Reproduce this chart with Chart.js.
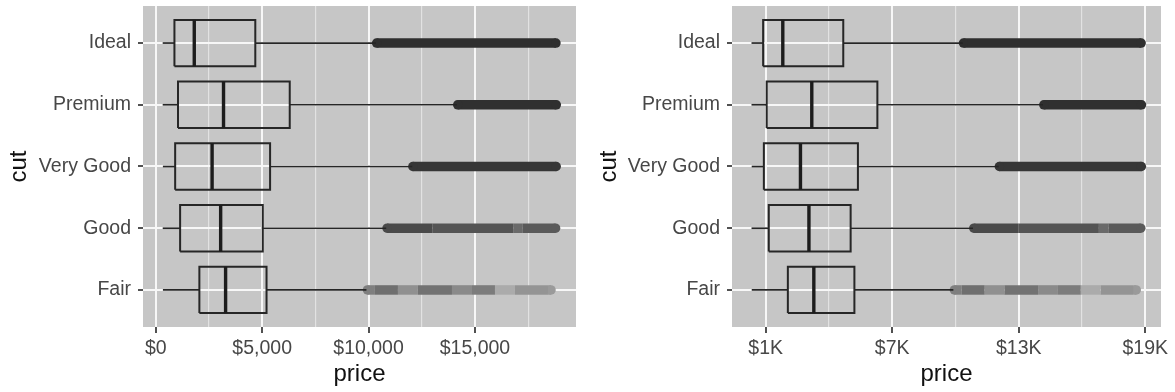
<!DOCTYPE html>
<html><head><meta charset="utf-8">
<script src="https://cdn.jsdelivr.net/npm/chart.js@4/dist/chart.umd.min.js"></script>
<style>
html,body{margin:0;padding:0;background:#fff;width:1175px;height:392px;overflow:hidden}
.wrap{position:absolute;top:0;width:585px;height:392px}
</style></head><body>
<div class="wrap" style="left:0"><canvas id="c1" width="585" height="392"></canvas></div>
<div class="wrap" style="left:590px"><canvas id="c2" width="585" height="392"></canvas></div>
<script>
// ---- data ----
const cuts = ['Fair', 'Good', 'Very Good', 'Premium', 'Ideal'];
const lowerWhisker = [337, 327, 336, 326, 326];
const q1 = [2050, 1145, 912, 1046, 878];
const median = [3282, 3050, 2648, 3185, 1810];
const q3 = [5206, 5028, 5373, 6296, 4678];
const upperWhisker = [9900, 10830, 12050, 14150, 10350];
// outlier runs: [from price, to price, point density]
const outliersFair = [[9950,10300,0.42],[10300,11380,0.52],[11380,12320,0.32],[12320,13920,0.5],[13920,14860,0.36],[14860,15940,0.44],[15940,16880,0.16],[16880,18430,0.3],[18430,18574,0.26]];
const outliersGood = [[10870,13000,0.74],[13000,16800,0.68],[16800,17250,0.55],[17250,18788,0.64]];
const outliersVeryGood = [[12080,18818,0.86]];
const outliersPremium = [[14190,18823,0.89]];
const outliersIdeal = [[10380,18806,0.9]];
const outlierRuns = [outliersFair, outliersGood, outliersVeryGood, outliersPremium, outliersIdeal];
const priceMin = -599, priceMax = 19748;
const leftMajorTicks = [0, 5000, 10000, 15000];
const leftMinorTicks = [2500, 7500, 12500, 17500];
const leftTickLabels = ['$0', '$5,000', '$10,000', '$15,000'];
const rightMajorTicks = [1000, 7000, 13000, 19000];
const rightMinorTicks = [4000, 10000, 16000];
const rightTickLabels = ['$1K', '$7K', '$13K', '$19K'];

// ---- style ----
const FONT = "'Liberation Sans', Arial, Helvetica, sans-serif";
const PANEL = '#c6c6c6';
const LINE = '#262626';
const BOX_HALF = 0.375;
const BAND_W = 9.5;

function shade(d) {
  const bg = 198, dark = 30;
  const v = Math.round(bg - d * (bg - dark));
  return 'rgb(' + v + ',' + v + ',' + v + ')';
}

function buildDatasets() {
  const ds = [];
  const base = {showLine: true, pointRadius: 0, pointHoverRadius: 0, fill: false, tension: 0};
  cuts.forEach((c, i) => {
    const y = i + 1;
    const runs = outlierRuns[i];
    runs.forEach((r, k) => {
      const col = shade(r[2]);
      const first = k === 0, last = k === runs.length - 1;
      ds.push(Object.assign({}, base, {
        data: [{x: r[0], y: y}, {x: r[1], y: y}],
        borderColor: col, borderWidth: BAND_W, borderCapStyle: 'butt',
        pointRadius: ctx => ((first && ctx.dataIndex === 0) || (last && ctx.dataIndex === 1)) ? BAND_W / 2 : 0,
        pointBackgroundColor: col, pointBorderWidth: 0, pointBorderColor: col,
        order: 3
      }));
    });
    ds.push(Object.assign({}, base, {
      data: [{x: lowerWhisker[i], y: y}, {x: q1[i], y: y}],
      borderColor: LINE, borderWidth: 1.7, order: 2
    }));
    ds.push(Object.assign({}, base, {
      data: [{x: q3[i], y: y}, {x: upperWhisker[i], y: y}],
      borderColor: LINE, borderWidth: 1.7, order: 2
    }));
    ds.push(Object.assign({}, base, {
      data: [{x: q1[i], y: y - BOX_HALF}, {x: q3[i], y: y - BOX_HALF}, {x: q3[i], y: y + BOX_HALF},
             {x: q1[i], y: y + BOX_HALF}, {x: q1[i], y: y - BOX_HALF}],
      borderColor: LINE, borderWidth: 2, borderJoinStyle: 'miter', order: 1
    }));
    ds.push(Object.assign({}, base, {
      data: [{x: median[i], y: y - BOX_HALF}, {x: median[i], y: y + BOX_HALF}],
      borderColor: '#1c1c1c', borderWidth: 3.4, borderCapStyle: 'butt', order: 0
    }));
  });
  return ds;
}

const panelBg = {
  id: 'panelBg',
  beforeDraw(chart) {
    const a = chart.chartArea, ctx = chart.ctx;
    ctx.save();
    ctx.fillStyle = PANEL;
    ctx.fillRect(a.left, a.top, a.right - a.left, a.bottom - a.top);
    ctx.restore();
  }
};

function makeChart(id, majors, minors, labels, yWidth, padRight) {
  const all = majors.concat(minors).sort((a, b) => a - b);
  const isMajor = v => majors.indexOf(v) >= 0;
  return new Chart(document.getElementById(id), {
    type: 'scatter',
    data: {datasets: buildDatasets()},
    options: {
      responsive: false, animation: false, events: [], devicePixelRatio: 1,
      layout: {padding: {top: 6, left: 0, right: padRight, bottom: 0}},
      plugins: {legend: {display: false}, tooltip: {enabled: false}},
      scales: {
        x: {
          type: 'linear', position: 'bottom', min: priceMin, max: priceMax,
          afterBuildTicks: s => { s.ticks = all.map(v => ({value: v})); },
          afterFit: s => { s.height = 65; s.paddingLeft = 0; s.paddingRight = 0; },
          ticks: {
            autoSkip: false, maxRotation: 0, minRotation: 0, padding: 4,
            color: '#474747', font: {family: FONT, size: 19.5},
            callback: v => { const k = majors.indexOf(v); return k >= 0 ? labels[k] : ''; }
          },
          grid: {
            color: ctx => isMajor(ctx.tick.value) ? '#f7f7f7' : '#e2e2e2',
            lineWidth: ctx => isMajor(ctx.tick.value) ? 2 : 1.2,
            tickLength: 6,
            tickColor: ctx => isMajor(ctx.tick.value) ? '#333333' : 'rgba(0,0,0,0)',
            tickWidth: 1.7
          },
          border: {display: false},
          title: {display: true, text: 'price', color: '#111', font: {family: FONT, size: 24}, padding: {top: 0, bottom: 3}}
        },
        y: {
          type: 'linear', min: 0.4, max: 5.6,
          afterBuildTicks: s => { s.ticks = cuts.map((c, i) => ({value: i + 1})); },
          afterFit: s => { s.width = yWidth; s.paddingTop = 0; s.paddingBottom = 0; },
          ticks: {
            autoSkip: false, padding: 7, color: '#474747', font: {family: FONT, size: 19.5},
            callback: v => cuts[Math.round(v) - 1] || ''
          },
          grid: {color: '#f7f7f7', lineWidth: 2, tickLength: 5, tickColor: '#333333', tickWidth: 1.7},
          border: {display: false},
          title: {display: true, text: 'cut', color: '#111', font: {family: FONT, size: 24}, padding: {top: 5, bottom: 0}}
        }
      }
    },
    plugins: [panelBg]
  });
}

makeChart('c1', leftMajorTicks, leftMinorTicks, leftTickLabels, 143, 9);
makeChart('c2', rightMajorTicks, rightMinorTicks, rightTickLabels, 142, 14);
</script>
</body></html>
